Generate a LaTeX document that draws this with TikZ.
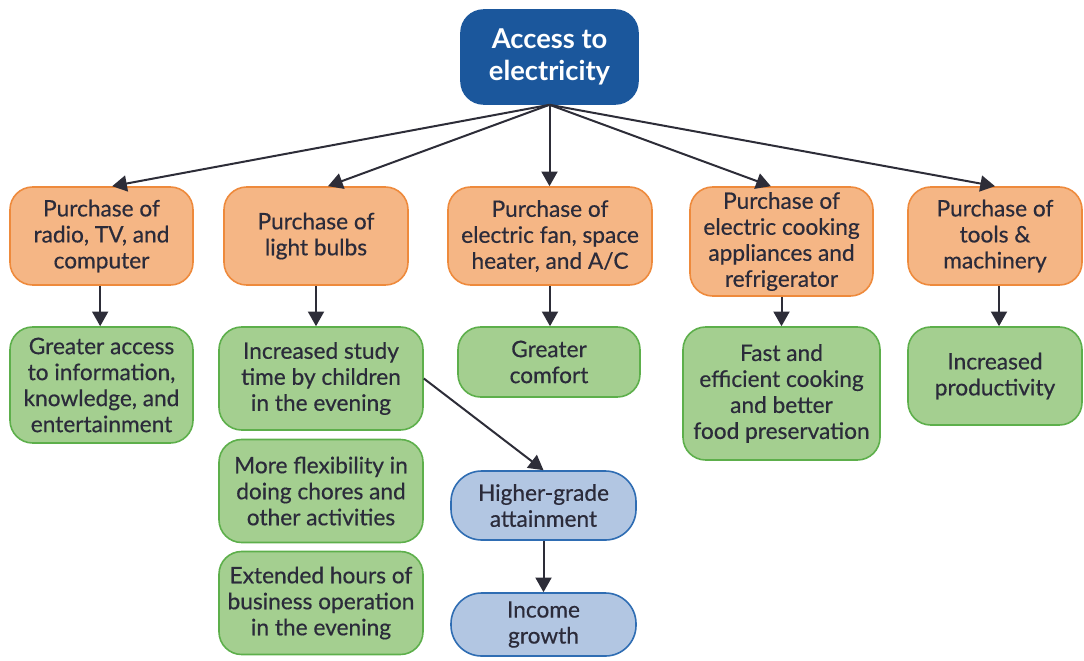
\documentclass[tikz,border=0pt]{standalone}
\usepackage{fontspec}
\setmainfont{Lato}
\newfontfamily\medfont[BoldFont=Lato, BoldFeatures={FakeBold=0.5}]{Lato}
\usetikzlibrary{arrows.meta}
\definecolor{txt}{HTML}{2B2B3A}
\definecolor{topfill}{HTML}{1B579C}
\definecolor{orfill}{HTML}{F5B685}
\definecolor{ordraw}{HTML}{EE8A3C}
\definecolor{grfill}{HTML}{A4CF90}
\definecolor{grdraw}{HTML}{5DAF4B}
\definecolor{blfill}{HTML}{B2C6E2}
\definecolor{bldraw}{HTML}{2F6DB3}
\definecolor{arr}{HTML}{2D2D38}
\tikzset{
  box/.style={rectangle, rounded corners=17pt, line width=1.2pt, inner sep=0pt,
    align=center, text=txt, font=\medfont\bfseries\fontsize{17}{19.5}\selectfont},
  topbox/.style={box, fill=topfill, draw=topfill, text=white,
    font=\rmfamily\bfseries\fontsize{20.5}{24}\selectfont},
  buy/.style={box, fill=orfill, draw=ordraw},
  effect/.style={box, fill=grfill, draw=grdraw},
  gain/.style={box, rounded corners=23pt, fill=blfill, draw=bldraw},
  link/.style={draw=arr, line width=1.5pt, -{Triangle[length=11pt,width=12pt]}}
}
\begin{document}
\begin{tikzpicture}[x=0.75pt,y=-0.75pt]
\useasboundingbox (0,0) rectangle (1084,660);

% source
\node[topbox, minimum width=132.75pt, minimum height=70.5pt] (top) at (549.5,57) {Access to\\electricity};

% purchases
\node[buy, minimum width=137.25pt, minimum height=73.5pt] (o1) at (101.5,236) {Purchase of\\radio, TV, and\\computer};
\node[buy, minimum width=138pt, minimum height=73.5pt] (o2) at (316,236) {Purchase of\\light bulbs};
\node[buy, minimum width=153pt, minimum height=73.5pt] (o3) at (550,236) {Purchase of\\electric fan, space\\heater, and A/C};
\node[buy, minimum width=137.25pt, minimum height=81.75pt] (o4) at (781.5,241.5) {Purchase of\\electric cooking\\appliances and\\refrigerator};
\node[buy, minimum width=130.5pt, minimum height=73.5pt] (o5) at (995,236) {Purchase of\\tools \&\\machinery};

% direct effects
\node[effect, minimum width=137.25pt, minimum height=87pt] (g1) at (101.5,385) {Greater access\\to information,\\knowledge, and\\entertainment};
\node[effect, minimum width=153pt, minimum height=77.25pt] (g2) at (321,378.5) {Increased study\\time by children\\in the evening};
\node[effect, minimum width=153pt, minimum height=77.25pt] (g3) at (321,491) {More flexibility in\\doing chores and\\other activities};
\node[effect, minimum width=153pt, minimum height=77.25pt] (g4) at (321,603) {Extended hours of\\business operation\\in the evening};
\node[effect, minimum width=136.5pt, minimum height=52.5pt] (g5) at (549,362) {Greater\\comfort};
\node[effect, minimum width=147.75pt, minimum height=99.75pt] (g6) at (781.5,393.5) {Fast and\\efficient cooking\\and better\\food preservation};
\node[effect, minimum width=130.5pt, minimum height=73.5pt] (g7) at (995,376) {Increased\\productivity};

% longer-term gains
\node[gain, minimum width=138.75pt, minimum height=51.75pt] (b1) at (543.5,505.5) {Higher-grade\\attainment};
\node[gain, minimum width=138.75pt, minimum height=47.25pt] (b2) at (543.5,624.5) {Income\\growth};

% connectors
\draw[link] (top.south) -- ([xshift=8pt]o1.north);
\draw[link] (top.south) -- ([xshift=9pt]o2.north);
\draw[link] (top.south) -- (top.south |- o3.north);
\draw[link] (top.south) -- ([xshift=-8pt]o4.north);
\draw[link] (top.south) -- (o5.north);

\draw[link] ([xshift=-1pt]o1.south) -- ([xshift=-1pt]o1.south |- g1.north);
\draw[link] (o2.south) -- (o2.south |- g2.north);
\draw[link] (o3.south) -- (o3.south |- g5.north);
\draw[link] (o4.south) -- (o4.south |- g6.north);
\draw[link] ([xshift=3pt]o5.south) -- ([xshift=3pt]o5.south |- g7.north);

\draw[link] (g2.east) -- (b1.north);
\draw[link] (b1.south) -- (b2.north);
\end{tikzpicture}
\end{document}
